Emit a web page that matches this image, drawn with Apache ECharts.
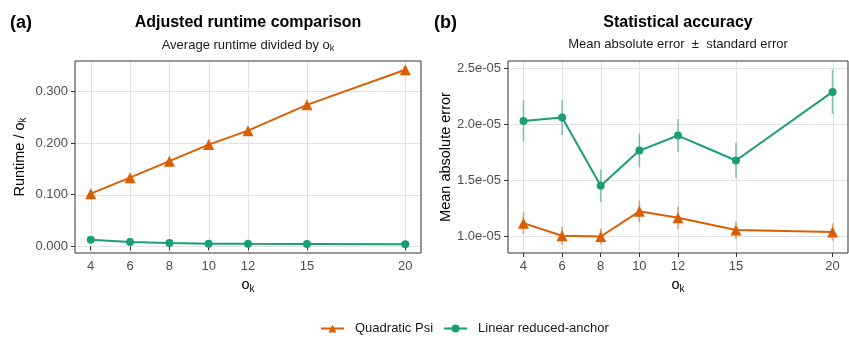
<!DOCTYPE html>
<html>
<head>
<meta charset="utf-8">
<script src="https://cdn.jsdelivr.net/npm/echarts@6/dist/echarts.min.js"></script>
<style>
  html, body { margin: 0; padding: 0; background: #fff; }
  #chart { width: 849px; height: 337px; }
</style>
</head>
<body>
<div id="chart"></div>
<script>
// o_k values on the x axis
const okValues = [4, 6, 8, 10, 12, 15, 20];

// (a) runtime / o_k
const quadRuntime = [0.102, 0.133, 0.165, 0.197, 0.224, 0.274, 0.342];
const linRuntime = [0.0128, 0.0083, 0.0064, 0.0051, 0.0048, 0.0045, 0.0040];

// (b) mean absolute error and standard error
const quadMAE = [1.118e-5, 1.006e-5, 0.999e-5, 1.223e-5, 1.166e-5, 1.056e-5, 1.039e-5];
const quadSE = [0.97e-6, 0.81e-6, 0.72e-6, 0.97e-6, 1.03e-6, 0.79e-6, 0.78e-6];
const linMAE = [2.027e-5, 2.058e-5, 1.451e-5, 1.764e-5, 1.898e-5, 1.676e-5, 2.287e-5];
const linSE = [1.84e-6, 1.57e-6, 1.45e-6, 1.50e-6, 1.47e-6, 1.57e-6, 1.97e-6];

// tick labels
const runtimeTicks = [0, 0.1, 0.2, 0.3];
const maeTicks = [1.0e-5, 1.5e-5, 2.0e-5, 2.5e-5];

const ORANGE = '#d95f02';
const GREEN = '#1b9e77';
const GRID_COLOR = '#e2e2e2';
const FONT = 'Liberation Sans, Arial, sans-serif';

const chart = echarts.init(document.getElementById('chart'), null, { renderer: 'canvas' });

const pairs = (ys) => okValues.map((x, i) => [x, ys[i]]);
const bars = (ys, se) => okValues.map((x, i) => [x, ys[i] - se[i], ys[i] + se[i]]);
const crisp = (v) => Math.round(v) + 0.5;

// 오차 막대
const errorBar = (color) => function (params, api) {
  const p1 = api.coord([api.value(0), api.value(1)]);
  const p2 = api.coord([api.value(0), api.value(2)]);
  return {
    type: 'line',
    shape: { x1: p1[0], y1: p1[1], x2: p2[0], y2: p2[1] },
    style: { stroke: color, lineWidth: 1.6, opacity: 0.55 },
  };
};

// 격자선 (세로)
const vGrid = function (params, api) {
  const cs = params.coordSys;
  const x = crisp(api.coord([api.value(0), api.value(1)])[0]);
  return { type: 'line', shape: { x1: x, y1: cs.y, x2: x, y2: cs.y + cs.height }, style: { stroke: GRID_COLOR, lineWidth: 1 } };
};
// 격자선 (가로)
const hGrid = function (params, api) {
  const cs = params.coordSys;
  const y = crisp(api.coord([api.value(0), api.value(1)])[1]);
  return { type: 'line', shape: { x1: cs.x, y1: y, x2: cs.x + cs.width, y2: y }, style: { stroke: GRID_COLOR, lineWidth: 1 } };
};

const gridSeries = (idx, yTicks) => [
  {
    type: 'custom', xAxisIndex: idx, yAxisIndex: idx, z: 0, silent: true,
    data: okValues.map((x) => [x, yTicks[0]]), renderItem: vGrid,
  },
  {
    type: 'custom', xAxisIndex: idx, yAxisIndex: idx, z: 0, silent: true,
    data: yTicks.map((y) => [okValues[0], y]), renderItem: hGrid,
  },
];

const xAxisBase = (gridIndex) => ({
  type: 'value',
  gridIndex,
  min: 3.2,
  max: 20.8,
  name: 'o{sub|k}',
  nameLocation: 'middle',
  nameGap: 17,
  nameTextStyle: { fontSize: 14.5, color: '#000', fontFamily: FONT, rich: { sub: { fontSize: 10, padding: [7, 0, 0, 0] } } },
  axisLine: { show: false },
  axisTick: { show: true, length: 4, lineStyle: { color: '#333' }, customValues: okValues },
  axisLabel: { fontSize: 13, color: '#4d4d4d', margin: 7, fontFamily: FONT, customValues: okValues },
  splitLine: { show: false },
});

const option = {
  animation: false,
  backgroundColor: '#fff',
  textStyle: { fontFamily: FONT },
  title: [
    { text: '(a)', left: 10, top: 14, padding: 0, textStyle: { fontSize: 18, fontWeight: 'bold', color: '#000', fontFamily: FONT } },
    { text: '(b)', left: 434, top: 14, padding: 0, textStyle: { fontSize: 18, fontWeight: 'bold', color: '#000', fontFamily: FONT } },
    {
      text: 'Adjusted runtime comparison',
      subtext: 'Average runtime divided by o{sub|k}',
      left: 248, top: 15, padding: 0, textAlign: 'center', itemGap: 7,
      textStyle: { fontSize: 16, fontWeight: 'bold', color: '#000', fontFamily: FONT },
      subtextStyle: { fontSize: 13, color: '#1a1a1a', fontFamily: FONT, rich: { sub: { fontSize: 9, padding: [6, 0, 0, 0] } } },
    },
    {
      text: 'Statistical accuracy',
      subtext: 'Mean absolute error  \u00b1  standard error',
      left: 678, top: 15, padding: 0, textAlign: 'center', itemGap: 7,
      textStyle: { fontSize: 16, fontWeight: 'bold', color: '#000', fontFamily: FONT },
      subtextStyle: { fontSize: 13, color: '#1a1a1a', fontFamily: FONT },
    },
  ],
  legend: {
    top: 322,
    left: 320,
    padding: 0,
    itemWidth: 23,
    itemHeight: 10,
    itemGap: 10,
    data: ['Quadratic Psi', 'Linear reduced-anchor'],
    textStyle: { fontSize: 13, color: '#1a1a1a', fontFamily: FONT, padding: [0, 0, 0, 6] },
  },
  grid: [
    { left: 75, top: 61, width: 346, height: 192, show: true, borderColor: '#333', borderWidth: 1, backgroundColor: 'transparent', z: 4 },
    { left: 508, top: 61, width: 340, height: 192, show: true, borderColor: '#333', borderWidth: 1, backgroundColor: 'transparent', z: 4 },
  ],
  xAxis: [xAxisBase(0), xAxisBase(1)],
  yAxis: [
    {
      type: 'value',
      gridIndex: 0,
      min: -0.0129,
      max: 0.3589,
      name: 'Runtime / o{sub|k}',
      nameLocation: 'middle',
      nameGap: 47,
      nameTextStyle: { fontSize: 14.5, color: '#000', fontFamily: FONT, rich: { sub: { fontSize: 10, padding: [7, 0, 0, 0] } } },
      axisLine: { show: false },
      axisTick: { show: true, length: 4, lineStyle: { color: '#333' }, customValues: runtimeTicks },
      axisLabel: { fontSize: 13, color: '#4d4d4d', margin: 7, fontFamily: FONT, customValues: runtimeTicks, formatter: (v) => v.toFixed(3) },
      splitLine: { show: false },
    },
    {
      type: 'value',
      gridIndex: 1,
      min: 0.852e-5,
      max: 2.562e-5,
      name: 'Mean absolute error',
      nameLocation: 'middle',
      nameGap: 53,
      nameTextStyle: { fontSize: 14.5, color: '#000', fontFamily: FONT },
      axisLine: { show: false },
      axisTick: { show: true, length: 4, lineStyle: { color: '#333' }, customValues: maeTicks },
      axisLabel: { fontSize: 13, color: '#4d4d4d', margin: 7, fontFamily: FONT, customValues: maeTicks, formatter: (v) => (v * 1e5).toFixed(1) + 'e-05' },
      splitLine: { show: false },
    },
  ],
  series: [
    ...gridSeries(0, runtimeTicks),
    ...gridSeries(1, maeTicks),
    {
      name: 'Quadratic Psi', type: 'line', xAxisIndex: 0, yAxisIndex: 0,
      data: pairs(quadRuntime), symbol: 'triangle', symbolSize: 11,
      itemStyle: { color: ORANGE }, lineStyle: { color: ORANGE, width: 2 }, z: 3,
    },
    {
      name: 'Linear reduced-anchor', type: 'line', xAxisIndex: 0, yAxisIndex: 0,
      data: pairs(linRuntime), symbol: 'circle', symbolSize: 8,
      itemStyle: { color: GREEN }, lineStyle: { color: GREEN, width: 2 }, z: 3,
    },
    {
      name: 'Quadratic Psi', type: 'custom', xAxisIndex: 1, yAxisIndex: 1,
      data: bars(quadMAE, quadSE), renderItem: errorBar(ORANGE),
      encode: { x: 0, y: [1, 2] }, z: 2, silent: true,
    },
    {
      name: 'Linear reduced-anchor', type: 'custom', xAxisIndex: 1, yAxisIndex: 1,
      data: bars(linMAE, linSE), renderItem: errorBar(GREEN),
      encode: { x: 0, y: [1, 2] }, z: 2, silent: true,
    },
    {
      name: 'Quadratic Psi', type: 'line', xAxisIndex: 1, yAxisIndex: 1,
      data: pairs(quadMAE), symbol: 'triangle', symbolSize: 11,
      itemStyle: { color: ORANGE }, lineStyle: { color: ORANGE, width: 2 }, z: 3,
    },
    {
      name: 'Linear reduced-anchor', type: 'line', xAxisIndex: 1, yAxisIndex: 1,
      data: pairs(linMAE), symbol: 'circle', symbolSize: 8,
      itemStyle: { color: GREEN }, lineStyle: { color: GREEN, width: 2 }, z: 3,
    },
  ],
};

chart.setOption(option);
</script>
</body>
</html>
